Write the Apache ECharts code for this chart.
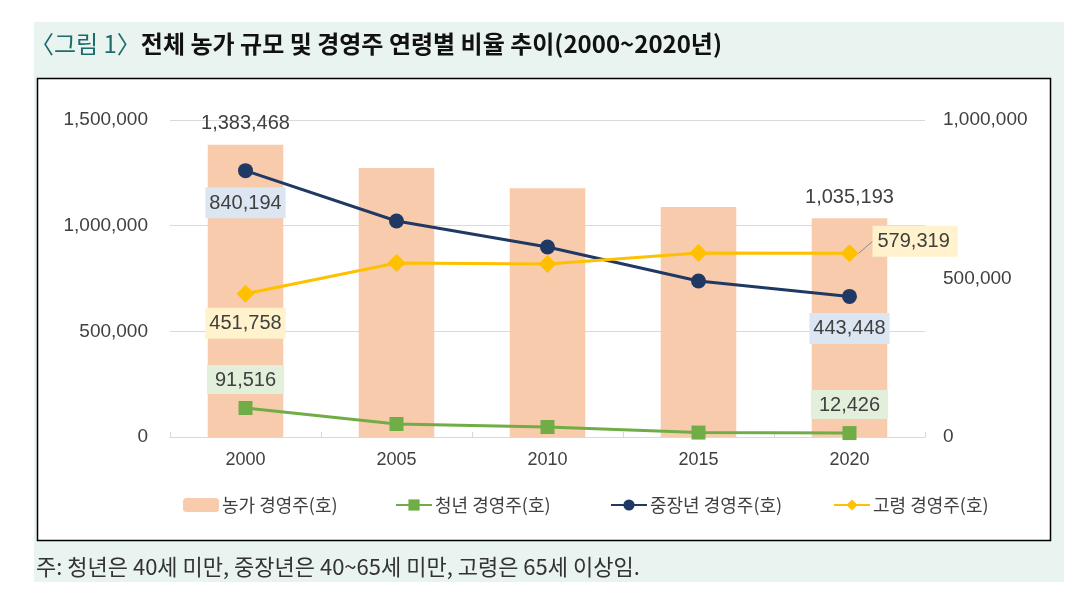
<!DOCTYPE html>
<html>
<head>
<meta charset="utf-8">
<script src="https://cdn.jsdelivr.net/npm/echarts@6/dist/echarts.min.js"></script>
<style>
html,body{margin:0;padding:0;background:#ffffff;}
#c{width:1090px;height:615px;}
</style>
</head>
<body>
<div id="c"></div>
<script>
const categories = ['2000', '2005', '2010', '2015', '2020'];
const farmTotal = [1383468, 1272908, 1177318, 1088518, 1035193];
const youngOwners = [91516, 41000, 31500, 14000, 12426];
const middleOwners = [840194, 681400, 599400, 492100, 443448];
const elderlyOwners = [451758, 548900, 545700, 580400, 579319];
const leftTicks = [0, 500000, 1000000, 1500000];
const rightTicks = [0, 500000, 1000000];
const seriesNames = ['농가 경영주(호)', '청년 경영주(호)', '중장년 경영주(호)', '고령 경영주(호)'];

const NUM_FONT = 'Arial, "Liberation Sans", "Noto Sans CJK KR", sans-serif';
const KR_FONT = '"Noto Sans CJK KR", "Liberation Sans", sans-serif';
const fmt = v => Number(v).toLocaleString('en-US');

function boxLabel(bg, position, extra) {
  return Object.assign({
    show: true,
    position: position,
    distance: 9,
    formatter: p => fmt(p.value),
    color: '#404040',
    fontSize: 20,
    fontFamily: NUM_FONT,
    backgroundColor: bg,
    padding: [6, 4, 5, 4]
  }, extra || {});
}

function pick(values, labels, withLine) {
  return values.map((v, i) => {
    if (!labels[i]) return v;
    const item = { value: v, label: labels[i] };
    item.labelLine = { show: !!(withLine && withLine[i]) };
    return item;
  });
}

const chart = echarts.init(document.getElementById('c'), null, { renderer: 'canvas' });

const barLabel = {
  show: true, position: 'top', distance: 11,
  formatter: p => fmt(p.value), color: '#404040', fontSize: 20, fontFamily: NUM_FONT
};

const legendBase = {
  top: 496, itemWidth: 36, itemHeight: 14, itemGap: 6, padding: 0,
  textStyle: { fontSize: 18, color: '#404040', fontFamily: KR_FONT, padding: [0, 0, 0, -2] }
};

chart.setOption({
  animation: false,
  backgroundColor: '#ffffff',
  graphic: [
    { type: 'rect', z: -20, silent: true, shape: { x: 34, y: 22, width: 1030, height: 560 }, style: { fill: '#e9f3ef' } },
    { type: 'rect', z: -10, silent: true, shape: { x: 37.5, y: 78.5, width: 1013, height: 462 }, style: { fill: '#ffffff', stroke: '#000000', lineWidth: 1.5 } },
    { type: 'text', left: 36, top: 556, silent: true,
      style: { text: '주: 청년은 40세 미만, 중장년은 40~65세 미만, 고령은 65세 이상임.', fill: '#333333', fontSize: 22, fontFamily: KR_FONT } }
  ],
  title: {
    left: 30, top: 32, padding: 0,
    text: '{a|〈그림 1〉}{b|전체 농가 규모 및 경영주 연령별 비율 추이(2000~2020년)}',
    textStyle: {
      rich: {
        a: { color: '#1d6b6d', fontSize: 24, fontFamily: KR_FONT, fontWeight: 'normal' },
        b: { color: '#111111', fontSize: 24, fontFamily: KR_FONT, fontWeight: 'bold' }
      }
    }
  },
  legend: [
    Object.assign({}, legendBase, { left: 183, data: [seriesNames[0]] }),
    Object.assign({}, legendBase, { left: 395, data: [seriesNames[1]] }),
    Object.assign({}, legendBase, { left: 610, data: [seriesNames[2]] }),
    Object.assign({}, legendBase, { left: 833, data: [seriesNames[3]] })
  ],
  grid: { left: 170, right: 165, top: 120, bottom: 178 },
  xAxis: {
    type: 'category',
    data: categories,
    axisLine: { show: true, lineStyle: { color: '#d9d9d9', width: 1 } },
    axisTick: { show: true, inside: true, length: 5, lineStyle: { color: '#d9d9d9' } },
    axisLabel: { color: '#404040', fontSize: 18, fontFamily: NUM_FONT, margin: 14 }
  },
  yAxis: [
    {
      type: 'value', min: leftTicks[0], max: leftTicks[leftTicks.length - 1], interval: 500000,
      axisLine: { show: false }, axisTick: { show: false },
      splitLine: { lineStyle: { color: '#d9d9d9', width: 1 } },
      axisLabel: { color: '#404040', fontSize: 19, fontFamily: NUM_FONT, margin: 22, formatter: v => fmt(v) }
    },
    {
      type: 'value', min: rightTicks[0], max: rightTicks[rightTicks.length - 1], interval: 500000,
      axisLine: { show: false }, axisTick: { show: false }, splitLine: { show: false },
      axisLabel: { color: '#404040', fontSize: 19, fontFamily: NUM_FONT, margin: 18, formatter: v => fmt(v) }
    }
  ],
  series: [
    {
      name: seriesNames[0], type: 'bar', yAxisIndex: 0, barWidth: '50%',
      itemStyle: { color: '#f8cbad' },
      data: pick(farmTotal, [barLabel, null, null, null, barLabel]),
      z: 1
    },
    {
      name: seriesNames[1], type: 'line', yAxisIndex: 1,
      symbol: 'rect', symbolSize: 14,
      lineStyle: { color: '#70ad47', width: 3 },
      itemStyle: { color: '#70ad47' },
      data: pick(youngOwners, [boxLabel('#e2efda', 'top', { distance: 7, padding: [5, 8, 4, 8] }), null, null, null, boxLabel('#e2efda', 'top', { distance: 7, padding: [5, 8, 4, 8] })]),
      z: 3
    },
    {
      name: seriesNames[2], type: 'line', yAxisIndex: 1,
      symbol: 'circle', symbolSize: 15,
      lineStyle: { color: '#1f3864', width: 3 },
      itemStyle: { color: '#1f3864' },
      data: pick(middleOwners, [boxLabel('#dce6f2', 'bottom'), null, null, null, boxLabel('#dce6f2', 'bottom')]),
      z: 4
    },
    {
      name: seriesNames[3], type: 'line', yAxisIndex: 1,
      symbol: 'diamond', symbolSize: 18,
      lineStyle: { color: '#ffc000', width: 3 },
      itemStyle: { color: '#ffc000' },
      labelLine: { show: false, lineStyle: { color: '#8c8c8c', width: 1 } },
      labelLayout: p => (p.dataIndex === 4 ? { dx: 14, dy: -12 } : {}),
      data: pick(elderlyOwners, [
        boxLabel('#fff2cc', 'bottom', { distance: 5 }), null, null, null,
        boxLabel('#fff2cc', 'right', { distance: 0, padding: [6, 8, 5, 5] })
      ], [false, false, false, false, true]),
      z: 5
    }
  ]
});
</script>
</body>
</html>
